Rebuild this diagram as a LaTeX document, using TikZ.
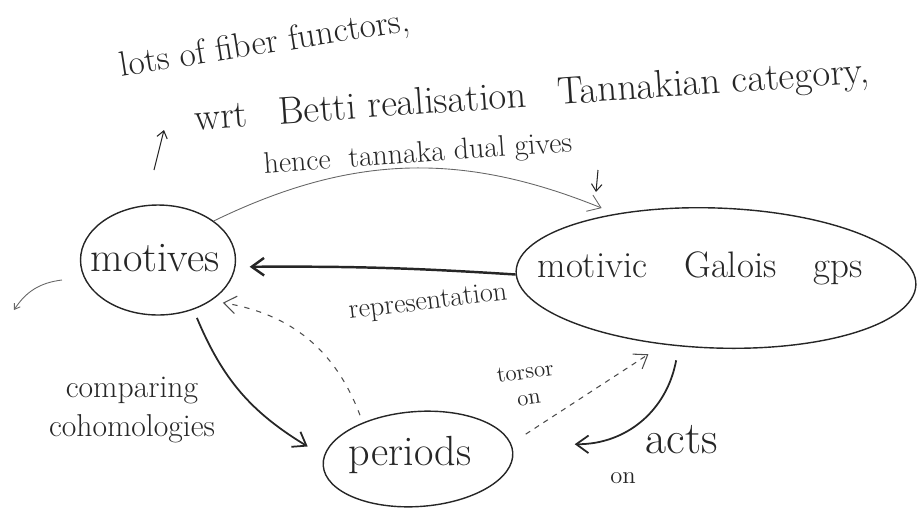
\documentclass[tikz,border=0pt]{standalone}
\usepackage{amsmath,amssymb}
\usepackage{tikz}
\usetikzlibrary{positioning, shapes.geometric, arrows.meta}
\usepackage{xcolor}

\tikzset{
  blob/.style={draw=black!85, ellipse, line width=0.8pt, inner sep=0pt},
  hand/.style={font=\fontsize{20}{22}\selectfont, text=black!85, inner sep=1pt},
  link/.style={-{Straight Barb[length=7pt, width=10pt]}, line width=1pt, draw=black!85},
  weak/.style={link, dashed, line width=0.6pt, draw=black!70}
}

\begin{document}
\begin{tikzpicture}[x=0.02cm, y=-0.02cm]
   \useasboundingbox (0,0) rectangle (922,518);

   % the three blobs
   \node[blob, minimum width=3.1cm, minimum height=2.2cm] (motives) at (158,260) {};
   \node[hand, font=\fontsize{24}{26}\selectfont] (motlab) at (155,258) {motives};

   \node[blob, minimum width=8.0cm, minimum height=2.8cm, rotate=-2] (galois) at (716,278) {};
   \node[hand, font=\fontsize{21}{24}\selectfont] (gallab) at (700,268) {motivic\hspace{1em}Galois\hspace{1em}gps};

   \node[blob, minimum width=3.8cm, minimum height=1.9cm, rotate=4] (periods) at (418,459) {};
   \node[hand, font=\fontsize{24}{26}\selectfont] (perlab) at (410,455) {periods};

   % text at the top
   \node[hand, rotate=9] (fibre) at (265,45) {lots of fiber functors,};
   \node[hand, rotate=4, font=\fontsize{22}{24}\selectfont] (betti) at (532,97) {wrt\hspace{0.8em}Betti realisation\hspace{0.8em}Tannakian category,};
   \node[hand, rotate=4, font=\fontsize{17}{19}\selectfont] (hence) at (418,155) {hence\hspace{0.6em}tannaka dual gives};

   \coordinate (up) at (154,170);
   \coordinate (tip) at (164,130);
   \coordinate (dn) at (598,170);
   \coordinate (dtip) at (596,192);
   \draw[link, line width=0.6pt, -{Straight Barb[length=4pt, width=6pt]}] (up) -- (tip);
   \draw[link, line width=0.6pt, -{Straight Barb[length=4pt, width=6pt]}] (dn) -- (dtip);

   % connectors
   \draw[link, line width=0.5pt, draw=black!60] (motives.35) to[bend left=24] ([shift={(-12,-6)}]galois.150);
   \draw[link, line width=1.4pt] (galois.181) to[bend right=2] ([xshift=8]motives.355);
   \node[hand, rotate=7, font=\fontsize{16}{18}\selectfont] (rep) at (428,303) {representation};

   \draw[weak, dash pattern=on 3pt off 4pt] ([shift={(-6,-6)}]periods.140) to[bend right=30] ([shift={(6,6)}]motives.-32);
   \draw[link] ([shift={(4,8)}]motives.-55) to[bend right=18] ([xshift=-12]periods.168);
   \node[hand, align=center, font=\fontsize{18}{22}\selectfont] (comp) at (132,410) {comparing\\cohomologies};

   \draw[weak] ([xshift=12]periods.12) -- ([shift={(-12,10)}]galois.232);
   \node[hand, align=center, rotate=8, font=\fontsize{13}{15}\selectfont] (tors) at (527,385) {torsor\\on};

   \draw[link] ([shift={(-2,14)}]galois.243) to[bend left=40] ([xshift=36]periods.5);
   \node[hand, font=\fontsize{26}{28}\selectfont] (acts) at (682,440) {acts};
   \node[hand, font=\fontsize{14}{16}\selectfont] (on) at (623,478) {on};

   % stray stroke on the left
   \coordinate (s1) at (62,280);
   \coordinate (s2) at (14,310);
   \draw[link, line width=0.5pt, draw=black!60, -{Straight Barb[length=3pt, width=4pt]}] (s1) to[bend right=25] (s2);
\end{tikzpicture}
\end{document}
